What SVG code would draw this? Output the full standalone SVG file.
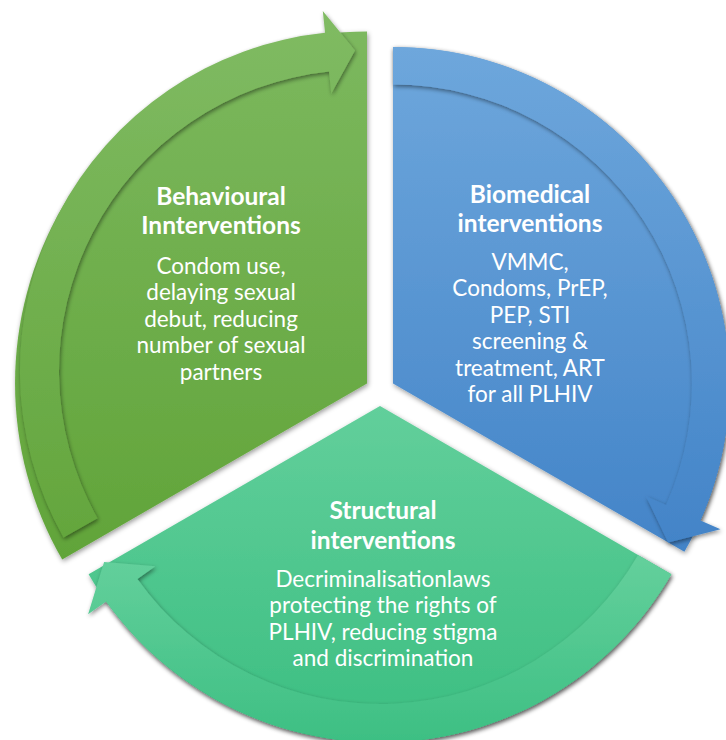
<svg xmlns="http://www.w3.org/2000/svg" width="726" height="740" viewBox="0 0 726 740">
  <defs>
    <linearGradient id="gG" x1="0" y1="0" x2="0" y2="1">
      <stop offset="0" stop-color="#7cb85e"/>
      <stop offset="1" stop-color="#61a439"/>
    </linearGradient>
    <linearGradient id="gGA" x1="0" y1="0" x2="0" y2="1">
      <stop offset="0" stop-color="#80bb63"/>
      <stop offset="1" stop-color="#64a63d"/>
    </linearGradient>
    <linearGradient id="gB" x1="0" y1="0" x2="0" y2="1">
      <stop offset="0" stop-color="#6ea7dc"/>
      <stop offset="1" stop-color="#4384c8"/>
    </linearGradient>
    <linearGradient id="gBA" x1="0" y1="0" x2="0" y2="1">
      <stop offset="0" stop-color="#6ea7dc"/>
      <stop offset="1" stop-color="#4384c8"/>
    </linearGradient>
    <linearGradient id="gS" x1="0" y1="0" x2="0" y2="1">
      <stop offset="0" stop-color="#62cf9b"/>
      <stop offset="1" stop-color="#3bbe81"/>
    </linearGradient>
    <linearGradient id="gSA" x1="0" y1="0" x2="0" y2="1">
      <stop offset="0" stop-color="#64d09c"/>
      <stop offset="1" stop-color="#3dbf83"/>
    </linearGradient>
    <filter id="sh" x="-10%" y="-10%" width="120%" height="120%">
      <feDropShadow dx="1" dy="2" stdDeviation="2.5" flood-color="#000" flood-opacity="0.4"/>
    </filter>
    <filter id="sha" x="-10%" y="-10%" width="120%" height="120%">
      <feDropShadow dx="1" dy="2" stdDeviation="2" flood-color="#000" flood-opacity="0.45"/>
    </filter>
  </defs>
  <style>
    .slice { filter: url(#sh); }
    .arrow { filter: url(#sha); }
    text { fill: #ffffff; font-family: Lato, "Open Sans", "Liberation Sans", sans-serif; text-anchor: middle; }
    .title { font-weight: bold; font-size: 24.5px; }
    .body { font-size: 22.5px; }
  </style>

  <g id="node-behavioural">
    <path class="slice" fill="url(#gG)" d="M367,383.5 L367,31.5 A352,352 0 0 0 62.2,559.5 Z"/>
    <text class="title" x="221" y="205">Behavioural</text>
    <text class="title" x="221" y="234">Innterventions</text>
    <text class="body" x="221" y="274">Condom use,</text>
    <text class="body" x="221" y="300.4">delaying sexual</text>
    <text class="body" x="221" y="326.8">debut, reducing</text>
    <text class="body" x="221" y="353.2">number of sexual</text>
    <text class="body" x="221" y="379.6">partners</text>
  </g>

  <g id="node-biomedical">
    <path class="slice" fill="url(#gB)" d="M393,383.5 L393,47 A336.5,336.5 0 0 1 684.4,551.75 Z"/>
    <text class="title" x="530" y="203">Biomedical</text>
    <text class="title" x="530" y="232">interventions</text>
    <text class="body" x="530" y="270">VMMC,</text>
    <text class="body" x="530" y="296.4">Condoms, PrEP,</text>
    <text class="body" x="530" y="322.8">PEP, STI</text>
    <text class="body" x="530" y="349.2">screening &amp;</text>
    <text class="body" x="530" y="375.6">treatment, ART</text>
    <text class="body" x="530" y="402">for all PLHIV</text>
  </g>

  <g id="node-structural">
    <path class="slice" fill="url(#gS)" d="M380,406 L671.4,574.25 A336.5,336.5 0 0 1 88.6,574.25 Z"/>
    <text class="title" x="383" y="519">Structural</text>
    <text class="title" x="383" y="548.5">interventions</text>
    <text class="body" x="383" y="587">Decriminalisationlaws</text>
    <text class="body" x="383" y="613.3">protecting the rights of</text>
    <text class="body" x="383" y="639.5">PLHIV, reducing stigma</text>
    <text class="body" x="383" y="665.7">and discrimination</text>
  </g>

  <g id="connectors">
    <path class="arrow" fill="url(#gGA)" d="M63.5,537.4 A340,340 0 0 1 325.05,32.8 L322.8,10.9 L355,50.5 L331.3,93.5 L329.1,71.6 A301,301 0 0 0 97.5,518.3 Z"/>
    <path class="arrow" fill="url(#gBA)" d="M393,47 A336.5,336.5 0 0 1 700.4,520.4 L720.5,529.3 L668.2,542.4 L646,496.2 L666.1,505.1 A299,299 0 0 0 393,84.5 Z"/>
    <path class="arrow" fill="url(#gSA)" d="M671.4,574.25 A336.5,336.5 0 0 1 106.1,601.4 L88.1,614.2 L104.1,562.1 L155.3,566.3 L137.4,579 A298,298 0 0 0 638.1,555 Z"/>
  </g>
</svg>
